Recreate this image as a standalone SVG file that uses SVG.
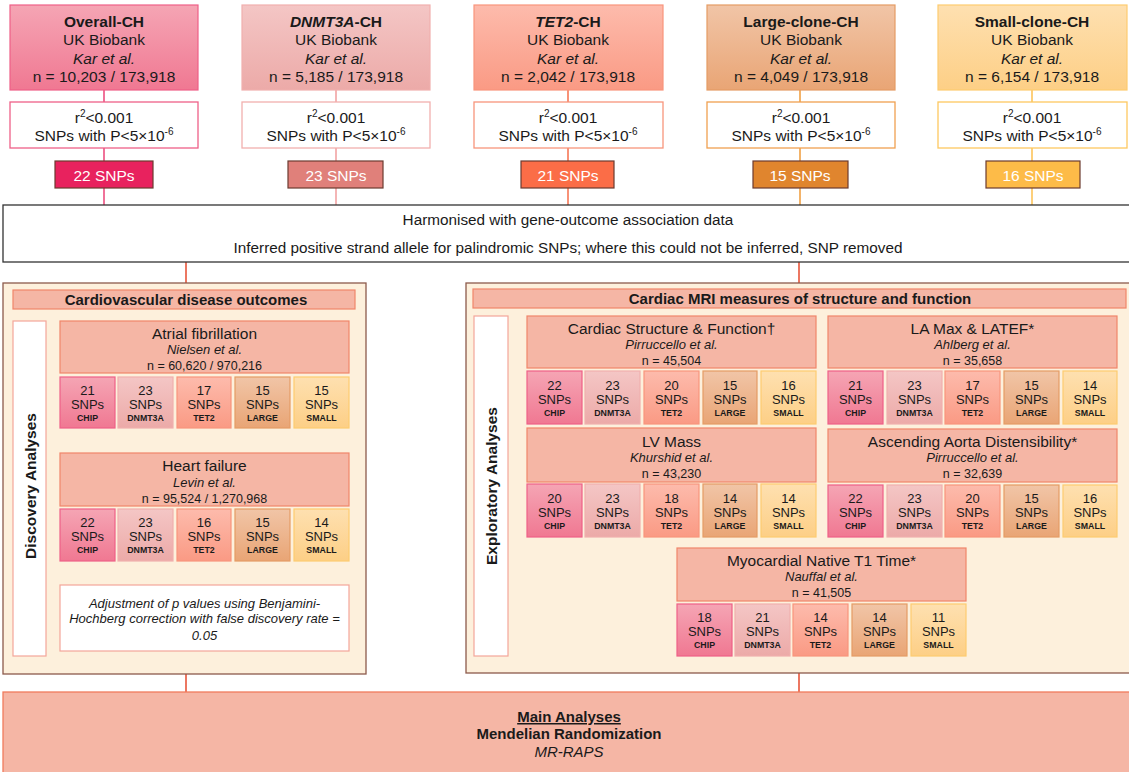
<svg xmlns="http://www.w3.org/2000/svg" width="1129" height="772" viewBox="0 0 1129 772">
<defs>
<linearGradient id="gCHIP" x1="0" y1="0" x2="0" y2="1"><stop offset="0" stop-color="#f5a5b4"/><stop offset="1" stop-color="#f07892"/></linearGradient>
<linearGradient id="gDNM" x1="0" y1="0" x2="0" y2="1"><stop offset="0" stop-color="#f4c6c5"/><stop offset="1" stop-color="#ecaaa8"/></linearGradient>
<linearGradient id="gTET" x1="0" y1="0" x2="0" y2="1"><stop offset="0" stop-color="#fdbbac"/><stop offset="1" stop-color="#fa9a84"/></linearGradient>
<linearGradient id="gLRG" x1="0" y1="0" x2="0" y2="1"><stop offset="0" stop-color="#f1c5a7"/><stop offset="1" stop-color="#e9a575"/></linearGradient>
<linearGradient id="gSML" x1="0" y1="0" x2="0" y2="1"><stop offset="0" stop-color="#fee0b0"/><stop offset="1" stop-color="#fdcf86"/></linearGradient>
<style>
text{font-family:"Liberation Sans",Arial,sans-serif;text-anchor:middle;fill:#1a1a1a}
.t16{font-size:15.5px}
.b{font-weight:bold}
.i{font-style:italic}
.w{fill:#fff}
.sup{font-size:10px}
.ttl{font-size:15.5px}
.sub{font-size:12.5px}
.num{font-size:13px}
.lab{font-size:8.8px;font-weight:bold}
.hdr{font-size:15px;font-weight:bold}
.chip{fill:url(#gCHIP);stroke:#ee6088;stroke-width:1.2}
.dnm{fill:url(#gDNM);stroke:#f0b0ae;stroke-width:1.2}
.tet{fill:url(#gTET);stroke:#f8957c;stroke-width:1.2}
.lrg{fill:url(#gLRG);stroke:#e59c64;stroke-width:1.2}
.sml{fill:url(#gSML);stroke:#fdcc70;stroke-width:1.2}
.wbox{fill:#fff;stroke-width:1.3}
.cnt{stroke:#6b3b30;stroke-width:1.2}
.out{fill:#f5b6a5;stroke:#f0856a;stroke-width:1.2}
.panel{fill:#fdf0dc;stroke:#8d5a4c;stroke-width:1.3}
.vbox{fill:#fff;stroke:#f3a69a;stroke-width:1.2}
.ln{fill:none;stroke-width:1.6}
</style>
</defs>
<rect width="1129" height="772" fill="#fff"/>

<g id="connectors">
<line class="ln" x1="104" y1="90" x2="104" y2="205" stroke="#ec4f80"/>
<line class="ln" x1="336" y1="90" x2="336" y2="205" stroke="#f2a3a3"/>
<line class="ln" x1="568" y1="90" x2="568" y2="205" stroke="#f77756"/>
<line class="ln" x1="800" y1="90" x2="800" y2="205" stroke="#f0a044"/>
<line class="ln" x1="1032" y1="90" x2="1032" y2="205" stroke="#fdc45a"/>
<line class="ln" x1="186" y1="262" x2="186" y2="283" stroke="#e8553a"/>
<line class="ln" x1="799" y1="262" x2="799" y2="283" stroke="#e8553a"/>
<line class="ln" x1="186" y1="674" x2="186" y2="692" stroke="#e8553a"/>
<line class="ln" x1="799" y1="673" x2="799" y2="692" stroke="#e8553a"/>
</g>

<g id="overall-ch">
<rect x="10" y="5" width="188" height="85" class="chip"/>
<text x="104" y="26.5" class="t16 b">Overall-CH</text>
<text x="104" y="45" class="t16">UK Biobank</text>
<text x="104" y="63.5" class="t16 i">Kar et al.</text>
<text x="104" y="82" class="t16">n = 10,203 / 173,918</text>
</g>
<g id="dnmt3a-ch">
<rect x="242" y="5" width="188" height="85" class="dnm"/>
<text x="336" y="26.5" class="t16 b"><tspan class="i">DNMT3A</tspan>-CH</text>
<text x="336" y="45" class="t16">UK Biobank</text>
<text x="336" y="63.5" class="t16 i">Kar et al.</text>
<text x="336" y="82" class="t16">n = 5,185 / 173,918</text>
</g>
<g id="tet2-ch">
<rect x="474" y="5" width="189" height="85" class="tet"/>
<text x="568" y="26.5" class="t16 b"><tspan class="i">TET2</tspan>-CH</text>
<text x="568" y="45" class="t16">UK Biobank</text>
<text x="568" y="63.5" class="t16 i">Kar et al.</text>
<text x="568" y="82" class="t16">n = 2,042 / 173,918</text>
</g>
<g id="large-clone-ch">
<rect x="707" y="5" width="188" height="85" class="lrg"/>
<text x="801" y="26.5" class="t16 b">Large-clone-CH</text>
<text x="801" y="45" class="t16">UK Biobank</text>
<text x="801" y="63.5" class="t16 i">Kar et al.</text>
<text x="801" y="82" class="t16">n = 4,049 / 173,918</text>
</g>
<g id="small-clone-ch">
<rect x="938" y="5" width="189" height="85" class="sml"/>
<text x="1032" y="26.5" class="t16 b">Small-clone-CH</text>
<text x="1032" y="45" class="t16">UK Biobank</text>
<text x="1032" y="63.5" class="t16 i">Kar et al.</text>
<text x="1032" y="82" class="t16">n = 6,154 / 173,918</text>
</g>

<g id="filter-overall">
<rect x="10" y="102" width="188" height="46" class="wbox" stroke="#ee6088"/>
<text x="104" y="122.5" class="t16">r<tspan class="sup" dy="-6">2</tspan><tspan dy="6">&lt;0.001</tspan></text>
<text x="104" y="140.5" class="t16">SNPs with P&lt;5×10<tspan class="sup" dy="-6">-6</tspan></text>
</g>
<g id="filter-dnmt3a">
<rect x="242" y="102" width="188" height="46" class="wbox" stroke="#f2b0ae"/>
<text x="336" y="122.5" class="t16">r<tspan class="sup" dy="-6">2</tspan><tspan dy="6">&lt;0.001</tspan></text>
<text x="336" y="140.5" class="t16">SNPs with P&lt;5×10<tspan class="sup" dy="-6">-6</tspan></text>
</g>
<g id="filter-tet2">
<rect x="474" y="102" width="189" height="46" class="wbox" stroke="#f8957c"/>
<text x="568" y="122.5" class="t16">r<tspan class="sup" dy="-6">2</tspan><tspan dy="6">&lt;0.001</tspan></text>
<text x="568" y="140.5" class="t16">SNPs with P&lt;5×10<tspan class="sup" dy="-6">-6</tspan></text>
</g>
<g id="filter-large">
<rect x="707" y="102" width="188" height="46" class="wbox" stroke="#f0a050"/>
<text x="801" y="122.5" class="t16">r<tspan class="sup" dy="-6">2</tspan><tspan dy="6">&lt;0.001</tspan></text>
<text x="801" y="140.5" class="t16">SNPs with P&lt;5×10<tspan class="sup" dy="-6">-6</tspan></text>
</g>
<g id="filter-small">
<rect x="938" y="102" width="189" height="46" class="wbox" stroke="#fdc860"/>
<text x="1032" y="122.5" class="t16">r<tspan class="sup" dy="-6">2</tspan><tspan dy="6">&lt;0.001</tspan></text>
<text x="1032" y="140.5" class="t16">SNPs with P&lt;5×10<tspan class="sup" dy="-6">-6</tspan></text>
</g>

<g id="count-overall"><rect x="55" y="161" width="98" height="27" class="cnt" fill="#e8225e"/><text x="104" y="180.5" class="t16 w">22 SNPs</text></g>
<g id="count-dnmt3a"><rect x="288" y="161" width="95" height="27" class="cnt" fill="#e0807a"/><text x="336" y="180.5" class="t16 w">23 SNPs</text></g>
<g id="count-tet2"><rect x="521" y="161" width="93" height="27" class="cnt" fill="#fb6d47"/><text x="568" y="180.5" class="t16 w">21 SNPs</text></g>
<g id="count-large"><rect x="753" y="161" width="95" height="27" class="cnt" fill="#e0852e"/><text x="800" y="180.5" class="t16 w">15 SNPs</text></g>
<g id="count-small"><rect x="986" y="161" width="94" height="27" class="cnt" fill="#fdbb48"/><text x="1033" y="180.5" class="t16 w">16 SNPs</text></g>

<g id="harmonised">
<rect x="3" y="205" width="1130" height="57" fill="#fff" stroke="#333" stroke-width="1.3"/>
<text x="568" y="225" style="font-size:15.3px">Harmonised with gene-outcome association data</text>
<text x="568" y="253" style="font-size:15.3px">Inferred positive strand allele for palindromic SNPs; where this could not be inferred, SNP removed</text>
</g>

<g id="discovery-panel">
<rect x="3" y="283" width="363" height="391" class="panel"/>
<rect x="13" y="290" width="342" height="19" class="out"/>
<text x="186" y="305" class="hdr">Cardiovascular disease outcomes</text>
<rect x="13" y="321" width="33" height="335" class="vbox"/>
<text transform="translate(35.5,486) rotate(-90)" x="0" y="0" style="font-size:15.5px;font-weight:bold">Discovery Analyses</text>
</g>

<g id="atrial-fibrillation">
<rect x="60" y="321" width="289" height="52" class="out"/>
<text x="204.5" y="338.5" class="ttl">Atrial fibrillation</text>
<text x="204.5" y="353.5" class="sub i" style="font-size:13px">Nielsen et al.</text>
<text x="204.5" y="369.5" class="sub">n = 60,620 / 970,216</text>
<rect x="60" y="377" width="55" height="51" class="chip"/><text x="87.5" y="394.5" class="num">21</text><text x="87.5" y="408.5" class="num">SNPs</text><text x="87.5" y="420.5" class="lab">CHIP</text>
<rect x="118" y="377" width="55" height="51" class="dnm"/><text x="145.5" y="394.5" class="num">23</text><text x="145.5" y="408.5" class="num">SNPs</text><text x="145.5" y="420.5" class="lab">DNMT3A</text>
<rect x="177" y="377" width="54" height="51" class="tet"/><text x="204" y="394.5" class="num">17</text><text x="204" y="408.5" class="num">SNPs</text><text x="204" y="420.5" class="lab">TET2</text>
<rect x="235" y="377" width="55" height="51" class="lrg"/><text x="262.5" y="394.5" class="num">15</text><text x="262.5" y="408.5" class="num">SNPs</text><text x="262.5" y="420.5" class="lab">LARGE</text>
<rect x="294" y="377" width="55" height="51" class="sml"/><text x="321.5" y="394.5" class="num">15</text><text x="321.5" y="408.5" class="num">SNPs</text><text x="321.5" y="420.5" class="lab">SMALL</text>
</g>

<g id="heart-failure">
<rect x="60" y="453" width="289" height="53" class="out"/>
<text x="204.5" y="470.5" class="ttl">Heart failure</text>
<text x="204.5" y="486.5" class="sub i" style="font-size:13px">Levin et al.</text>
<text x="204.5" y="502.5" class="sub">n = 95,524 / 1,270,968</text>
<rect x="60" y="509" width="55" height="52" class="chip"/><text x="87.5" y="526.5" class="num">22</text><text x="87.5" y="540.5" class="num">SNPs</text><text x="87.5" y="552.5" class="lab">CHIP</text>
<rect x="118" y="509" width="55" height="52" class="dnm"/><text x="145.5" y="526.5" class="num">23</text><text x="145.5" y="540.5" class="num">SNPs</text><text x="145.5" y="552.5" class="lab">DNMT3A</text>
<rect x="177" y="509" width="54" height="52" class="tet"/><text x="204" y="526.5" class="num">16</text><text x="204" y="540.5" class="num">SNPs</text><text x="204" y="552.5" class="lab">TET2</text>
<rect x="235" y="509" width="55" height="52" class="lrg"/><text x="262.5" y="526.5" class="num">15</text><text x="262.5" y="540.5" class="num">SNPs</text><text x="262.5" y="552.5" class="lab">LARGE</text>
<rect x="294" y="509" width="55" height="52" class="sml"/><text x="321.5" y="526.5" class="num">14</text><text x="321.5" y="540.5" class="num">SNPs</text><text x="321.5" y="552.5" class="lab">SMALL</text>
</g>

<g id="fdr-note">
<rect x="60" y="585" width="289" height="66" fill="#fff" stroke="#f3a69a" stroke-width="1.2"/>
<text x="204.5" y="607.5" class="i" style="font-size:13px">Adjustment of p values using Benjamini-</text>
<text x="204.5" y="623" class="i" style="font-size:13px">Hochberg correction with false discovery rate =</text>
<text x="204.5" y="639.5" class="i" style="font-size:13px">0.05</text>
</g>

<g id="exploratory-panel">
<rect x="466" y="283" width="670" height="390" class="panel"/>
<rect x="473" y="289" width="653" height="19" class="out"/>
<text x="800" y="304" class="hdr">Cardiac MRI measures of structure and function</text>
<rect x="474" y="316" width="34" height="340" class="vbox"/>
<text transform="translate(496.5,486) rotate(-90)" x="0" y="0" style="font-size:15.5px;font-weight:bold">Exploratory Analyses</text>
</g>

<g id="cardiac-structure">
<rect x="527" y="316" width="289" height="52" class="out"/>
<text x="671.5" y="333.5" class="ttl">Cardiac Structure &amp; Function†</text>
<text x="671.5" y="348.5" class="sub i" style="font-size:13px">Pirruccello et al.</text>
<text x="671.5" y="364.5" class="sub">n = 45,504</text>
<rect x="527" y="371" width="55" height="53" class="chip"/><text x="554.5" y="389.5" class="num">22</text><text x="554.5" y="403.5" class="num">SNPs</text><text x="554.5" y="415.5" class="lab">CHIP</text>
<rect x="585" y="371" width="55" height="53" class="dnm"/><text x="612.5" y="389.5" class="num">23</text><text x="612.5" y="403.5" class="num">SNPs</text><text x="612.5" y="415.5" class="lab">DNMT3A</text>
<rect x="644" y="371" width="55" height="53" class="tet"/><text x="671.5" y="389.5" class="num">20</text><text x="671.5" y="403.5" class="num">SNPs</text><text x="671.5" y="415.5" class="lab">TET2</text>
<rect x="703" y="371" width="54" height="53" class="lrg"/><text x="730" y="389.5" class="num">15</text><text x="730" y="403.5" class="num">SNPs</text><text x="730" y="415.5" class="lab">LARGE</text>
<rect x="761" y="371" width="55" height="53" class="sml"/><text x="788.5" y="389.5" class="num">16</text><text x="788.5" y="403.5" class="num">SNPs</text><text x="788.5" y="415.5" class="lab">SMALL</text>
</g>

<g id="la-max">
<rect x="828" y="316" width="289" height="52" class="out"/>
<text x="972.5" y="333.5" class="ttl">LA Max &amp; LATEF*</text>
<text x="972.5" y="348.5" class="sub i" style="font-size:13px">Ahlberg et al.</text>
<text x="972.5" y="364.5" class="sub">n = 35,658</text>
<rect x="828" y="371" width="55" height="53" class="chip"/><text x="855.5" y="389.5" class="num">21</text><text x="855.5" y="403.5" class="num">SNPs</text><text x="855.5" y="415.5" class="lab">CHIP</text>
<rect x="887" y="371" width="55" height="53" class="dnm"/><text x="914.5" y="389.5" class="num">23</text><text x="914.5" y="403.5" class="num">SNPs</text><text x="914.5" y="415.5" class="lab">DNMT3A</text>
<rect x="945" y="371" width="55" height="53" class="tet"/><text x="972.5" y="389.5" class="num">17</text><text x="972.5" y="403.5" class="num">SNPs</text><text x="972.5" y="415.5" class="lab">TET2</text>
<rect x="1004" y="371" width="55" height="53" class="lrg"/><text x="1031.5" y="389.5" class="num">15</text><text x="1031.5" y="403.5" class="num">SNPs</text><text x="1031.5" y="415.5" class="lab">LARGE</text>
<rect x="1063" y="371" width="54" height="53" class="sml"/><text x="1090" y="389.5" class="num">14</text><text x="1090" y="403.5" class="num">SNPs</text><text x="1090" y="415.5" class="lab">SMALL</text>
</g>

<g id="lv-mass">
<rect x="527" y="428" width="289" height="54" class="out"/>
<text x="671.5" y="446.5" class="ttl">LV Mass</text>
<text x="671.5" y="461.5" class="sub i" style="font-size:13px">Khurshid et al.</text>
<text x="671.5" y="477.5" class="sub">n = 43,230</text>
<rect x="527" y="484" width="55" height="53" class="chip"/><text x="554.5" y="502.5" class="num">20</text><text x="554.5" y="516.5" class="num">SNPs</text><text x="554.5" y="528.5" class="lab">CHIP</text>
<rect x="585" y="484" width="55" height="53" class="dnm"/><text x="612.5" y="502.5" class="num">23</text><text x="612.5" y="516.5" class="num">SNPs</text><text x="612.5" y="528.5" class="lab">DNMT3A</text>
<rect x="644" y="484" width="55" height="53" class="tet"/><text x="671.5" y="502.5" class="num">18</text><text x="671.5" y="516.5" class="num">SNPs</text><text x="671.5" y="528.5" class="lab">TET2</text>
<rect x="703" y="484" width="54" height="53" class="lrg"/><text x="730" y="502.5" class="num">14</text><text x="730" y="516.5" class="num">SNPs</text><text x="730" y="528.5" class="lab">LARGE</text>
<rect x="761" y="484" width="55" height="53" class="sml"/><text x="788.5" y="502.5" class="num">14</text><text x="788.5" y="516.5" class="num">SNPs</text><text x="788.5" y="528.5" class="lab">SMALL</text>
</g>

<g id="aorta-distensibility">
<rect x="828" y="429" width="289" height="53" class="out"/>
<text x="972.5" y="446.5" class="ttl">Ascending Aorta Distensibility*</text>
<text x="972.5" y="461.5" class="sub i" style="font-size:13px">Pirruccello et al.</text>
<text x="972.5" y="477.5" class="sub">n = 32,639</text>
<rect x="828" y="485" width="55" height="52" class="chip"/><text x="855.5" y="502.5" class="num">22</text><text x="855.5" y="516.5" class="num">SNPs</text><text x="855.5" y="528.5" class="lab">CHIP</text>
<rect x="887" y="485" width="55" height="52" class="dnm"/><text x="914.5" y="502.5" class="num">23</text><text x="914.5" y="516.5" class="num">SNPs</text><text x="914.5" y="528.5" class="lab">DNMT3A</text>
<rect x="945" y="485" width="55" height="52" class="tet"/><text x="972.5" y="502.5" class="num">20</text><text x="972.5" y="516.5" class="num">SNPs</text><text x="972.5" y="528.5" class="lab">TET2</text>
<rect x="1004" y="485" width="55" height="52" class="lrg"/><text x="1031.5" y="502.5" class="num">15</text><text x="1031.5" y="516.5" class="num">SNPs</text><text x="1031.5" y="528.5" class="lab">LARGE</text>
<rect x="1063" y="485" width="54" height="52" class="sml"/><text x="1090" y="502.5" class="num">16</text><text x="1090" y="516.5" class="num">SNPs</text><text x="1090" y="528.5" class="lab">SMALL</text>
</g>

<g id="myocardial-t1">
<rect x="677" y="548" width="289" height="53" class="out"/>
<text x="821.5" y="566" class="ttl">Myocardial Native T1 Time*</text>
<text x="821.5" y="581" class="sub i" style="font-size:13px">Nauffal et al.</text>
<text x="821.5" y="597" class="sub">n = 41,505</text>
<rect x="677" y="604" width="55" height="52" class="chip"/><text x="704.5" y="621.5" class="num">18</text><text x="704.5" y="635.5" class="num">SNPs</text><text x="704.5" y="647.5" class="lab">CHIP</text>
<rect x="735" y="604" width="55" height="52" class="dnm"/><text x="762.5" y="621.5" class="num">21</text><text x="762.5" y="635.5" class="num">SNPs</text><text x="762.5" y="647.5" class="lab">DNMT3A</text>
<rect x="793" y="604" width="55" height="52" class="tet"/><text x="820.5" y="621.5" class="num">14</text><text x="820.5" y="635.5" class="num">SNPs</text><text x="820.5" y="647.5" class="lab">TET2</text>
<rect x="852" y="604" width="55" height="52" class="lrg"/><text x="879.5" y="621.5" class="num">14</text><text x="879.5" y="635.5" class="num">SNPs</text><text x="879.5" y="647.5" class="lab">LARGE</text>
<rect x="911" y="604" width="55" height="52" class="sml"/><text x="938.5" y="621.5" class="num">11</text><text x="938.5" y="635.5" class="num">SNPs</text><text x="938.5" y="647.5" class="lab">SMALL</text>
</g>

<g id="main-analyses">
<rect x="3" y="692" width="1133" height="84" fill="#f5b6a5" stroke="#f07c5c" stroke-width="1.3"/>
<text x="569" y="722" class="b" style="font-size:15px;text-decoration:underline">Main Analyses</text>
<text x="569" y="739" class="b" style="font-size:15px">Mendelian Randomization</text>
<text x="569" y="757" class="i" style="font-size:15px">MR-RAPS</text>
</g>
</svg>
